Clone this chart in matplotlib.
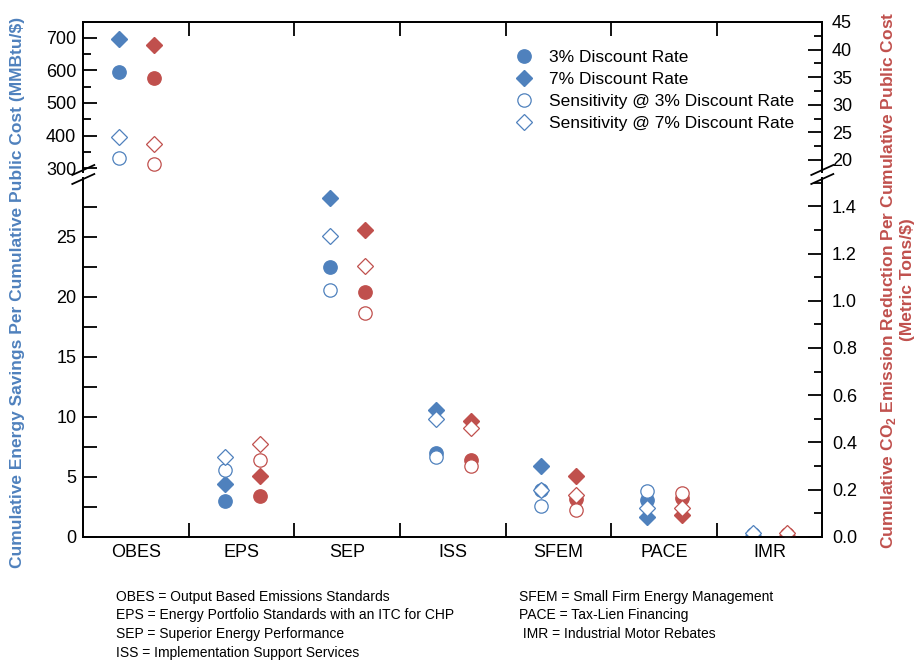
import numpy as np
import matplotlib
matplotlib.use("Agg")
import matplotlib.pyplot as plt
from matplotlib.lines import Line2D
from matplotlib.ticker import MultipleLocator, FuncFormatter, FixedLocator

plt.rcParams['font.family'] = ['Liberation Sans', 'DejaVu Sans']
plt.rcParams['mathtext.fontset'] = 'custom'
plt.rcParams['mathtext.rm'] = 'Liberation Sans'
plt.rcParams['mathtext.bf'] = 'Liberation Sans:bold'

BLUE = '#4F81BD'
RED = '#C0504D'

categories = ["OBES", "EPS", "SEP", "ISS", "SFEM", "PACE", "IMR"]

# energy savings per public cost (MMBtu/$), left axis
blue_r3 = [594, 2.97, 22.5, 7.0, 3.9, 3.05, 0.1]
blue_r7 = [696, 4.36, 28.25, 10.56, 5.89, 1.67, 0.05]
blue_s3 = [333, 5.56, 20.56, 6.67, 2.58, 3.81, 0.2]
blue_s7 = [395, 6.67, 25.06, 9.78, 3.89, 2.42, 0.28]

# CO2 reduction per public cost (metric tons/$), right axis
red_r3 = [34.9, 0.172, 1.036, 0.327, 0.16, 0.165, 0.005]
red_r7 = [40.9, 0.259, 1.30, 0.489, 0.256, 0.09, 0.003]
red_s3 = [19.3, 0.323, 0.947, 0.301, 0.115, 0.186, 0.01]
red_s7 = [22.8, 0.393, 1.147, 0.461, 0.175, 0.123, 0.017]

legend_labels = ["3% Discount Rate", "7% Discount Rate",
                 "Sensitivity @ 3% Discount Rate", "Sensitivity @ 7% Discount Rate"]

footnotes_left = ["OBES = Output Based Emissions Standards",
                  "EPS = Energy Portfolio Standards with an ITC for CHP",
                  "SEP = Superior Energy Performance",
                  "ISS = Implementation Support Services"]
footnotes_right = ["SFEM = Small Firm Energy Management",
                   "PACE = Tax-Lien Financing",
                   " IMR = Industrial Motor Rebates"]

W, H = 922, 660
fig = plt.figure(figsize=(W / 100, H / 100), dpi=100)

L, R = 83.3, 822.3
def fx(px):
    return px / W
def fy(py):
    return 1 - py / H

ax_top = fig.add_axes([fx(L), fy(172), fx(R - L), (172 - 22) / H])
ax_bot = fig.add_axes([fx(L), fy(536.7), fx(R - L), (536.7 - 178) / H])
axr_top = ax_top.twinx()
axr_bot = ax_bot.twinx()

x = np.arange(len(categories))
dx_b, dx_r = -0.16, 0.17
ms_o, ms_d = 9.6, 7.8


def draw_points(ax, xs, r3, r7, s3, s7, color):
    ax.plot(xs, r3, 'o', ms=ms_o, color=color, mec=color, ls='none')
    ax.plot(xs, r7, 'D', ms=ms_d, color=color, mec=color, ls='none')
    ax.plot(xs, s3, 'o', ms=ms_o, mfc='white', mec=color, mew=0.9, ls='none')
    ax.plot(xs, s7, 'D', ms=ms_d, mfc='white', mec=color, mew=0.9, ls='none')


for ax in (ax_top, ax_bot):
    draw_points(ax, x + dx_b, blue_r3, blue_r7, blue_s3, blue_s7, BLUE)
for ax in (axr_top, axr_bot):
    draw_points(ax, x + dx_r, red_r3, red_r7, red_s3, red_s7, RED)

for ax in (ax_top, ax_bot, axr_top, axr_bot):
    ax.set_xlim(-0.5, len(categories) - 0.5)
    for s in ax.spines.values():
        s.set_linewidth(1.3)

ax_top.set_ylim(288.7, 748)
axr_top.set_ylim(17.8, 45)
ax_bot.set_ylim(0, 29.9)
axr_bot.set_ylim(0, 1.52)

# spines for broken axis
for ax in (ax_top, axr_top):
    ax.spines['bottom'].set_visible(False)
for ax in (ax_bot, axr_bot):
    ax.spines['top'].set_visible(False)

bounds = np.arange(0.5, len(categories) - 0.5, 1)
tl = 13

# top panel ticks
ax_top.xaxis.set_ticks_position('top')
ax_top.set_xticks(bounds)
ax_top.set_xticklabels([])
ax_top.tick_params(axis='x', direction='in', length=10, width=1.3, top=True, bottom=False)
ax_top.yaxis.set_major_locator(MultipleLocator(100))
ax_top.yaxis.set_minor_locator(MultipleLocator(50))
ax_top.tick_params(axis='y', which='major', direction='in', length=10, width=1.3, labelsize=tl, pad=5)
ax_top.tick_params(axis='y', which='minor', direction='in', length=6, width=1.3)
axr_top.yaxis.set_major_locator(MultipleLocator(5))
axr_top.yaxis.set_minor_locator(MultipleLocator(2.5))
axr_top.tick_params(axis='y', which='major', direction='in', length=10, width=1.3, labelsize=tl, pad=7)
axr_top.tick_params(axis='y', which='minor', direction='in', length=6, width=1.3)
axr_top.tick_params(axis='x', which='both', top=False, bottom=False, labeltop=False, labelbottom=False)

# bottom panel ticks
ax_bot.set_xticks(bounds)
ax_bot.set_xticklabels([])
ax_bot.xaxis.set_minor_locator(FixedLocator(x))
ax_bot.set_xticklabels(categories, minor=True)
ax_bot.tick_params(axis='x', which='major', direction='in', length=10, width=1.3, top=False)
ax_bot.tick_params(axis='x', which='minor', length=0, labelsize=13, pad=5)
ax_bot.yaxis.set_major_locator(MultipleLocator(2.5))
ax_bot.yaxis.set_major_formatter(FuncFormatter(lambda v, p: f"{v:.0f}" if v % 5 == 0 else ""))
ax_bot.tick_params(axis='y', which='major', direction='in', length=10, width=1.3, labelsize=tl, pad=5)
axr_bot.yaxis.set_major_locator(MultipleLocator(0.2))
axr_bot.yaxis.set_minor_locator(MultipleLocator(0.1))
axr_bot.yaxis.set_major_formatter(FuncFormatter(lambda v, p: f"{v:.1f}"))
axr_bot.tick_params(axis='y', which='major', direction='in', length=10, width=1.3, labelsize=tl, pad=7)
axr_bot.tick_params(axis='y', which='minor', direction='in', length=6, width=1.3)

# break marks
for px in (L, R):
    for py in (170, 179):
        fig.add_artist(Line2D([fx(px - 11), fx(px + 11)], [fy(py + 5), fy(py - 5)],
                              color='black', lw=1.3))

# legend
handles = [
    Line2D([], [], marker='o', ms=ms_o, color=BLUE, ls='none'),
    Line2D([], [], marker='D', ms=ms_d, color=BLUE, ls='none'),
    Line2D([], [], marker='o', ms=ms_o, mfc='white', mec=BLUE, mew=0.9, ls='none'),
    Line2D([], [], marker='D', ms=ms_d, mfc='white', mec=BLUE, mew=0.9, ls='none'),
]
fig.legend(handles, legend_labels, loc='upper left', bbox_to_anchor=(fx(514), fy(50)),
           frameon=False, fontsize=12.5, handlelength=1.2, handletextpad=0.8,
           labelspacing=0.4, borderpad=0, borderaxespad=0)

# axis labels
fig.text(fx(18), fy(292), "Cumulative Energy Savings Per Cumulative Public Cost (MMBtu/$)",
         rotation=90, ha='center', va='center', color=BLUE, fontsize=12.5, fontweight='bold')
fig.text(fx(897), fy(280),
         "Cumulative CO$_\\mathbf{2}$ Emission Reduction Per Cumulative Public Cost\n(Metric Tons/$)",
         rotation=90, ha='center', va='center', color=RED, fontsize=12.5, fontweight='bold',
         multialignment='center', linespacing=1.1)

# footnotes
for i, t in enumerate(footnotes_left):
    fig.text(fx(116), fy(597 + i * 18.5), t, ha='left', va='center', fontsize=10)
for i, t in enumerate(footnotes_right):
    fig.text(fx(519), fy(597 + i * 18.5), t, ha='left', va='center', fontsize=10)

fig.savefig("out.png", dpi=100)
